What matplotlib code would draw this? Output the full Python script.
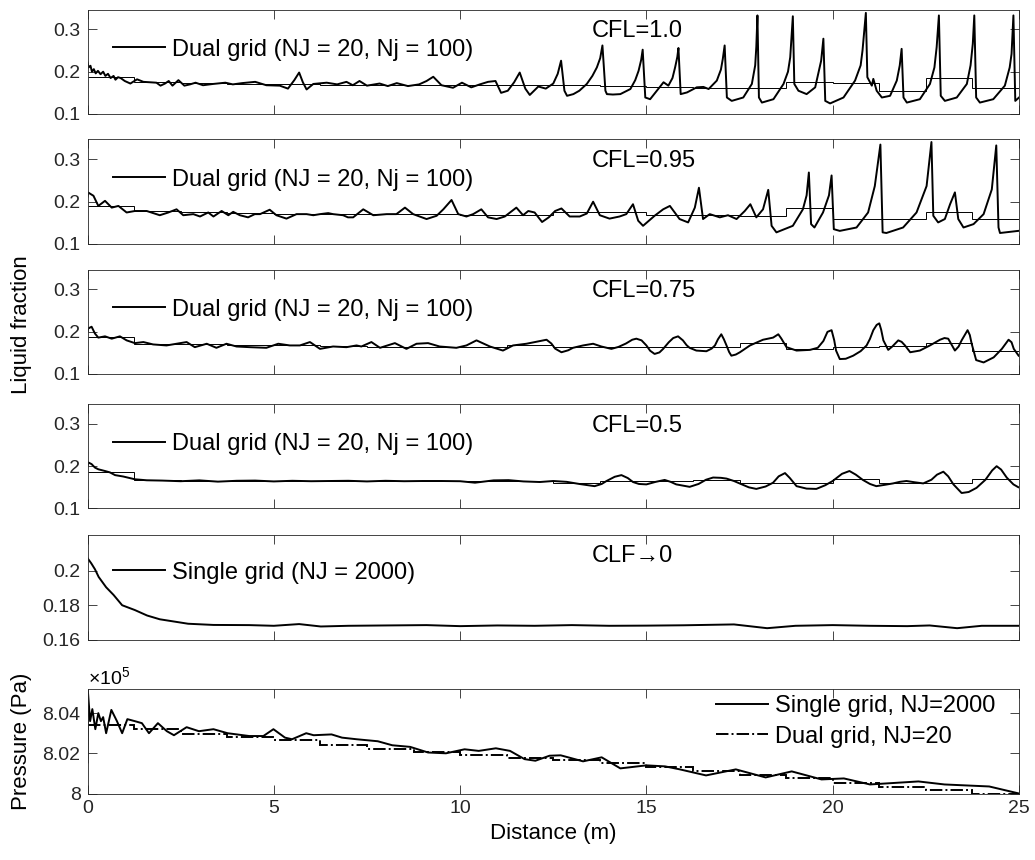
import numpy as np
import matplotlib
matplotlib.use("Agg")
import matplotlib.pyplot as plt
from matplotlib.ticker import FuncFormatter
from matplotlib.lines import Line2D

plt.rcParams['font.family'] = ['Liberation Sans', 'DejaVu Sans']
plt.rcParams['mathtext.fontset'] = 'custom'
plt.rcParams['mathtext.rm'] = 'Liberation Sans'
plt.rcParams['mathtext.it'] = 'Liberation Sans'

# ---------------- data ----------------
cell_edges = np.arange(21) * 1.25   # 20 coarse cells (NJ = 20) over 25 m
x_ticks = [0, 5, 10, 15, 20, 25]

# CFL = 1.0
cfl10_x = [0.0, 0.03, 0.08, 0.12, 0.17, 0.22, 0.28, 0.35, 0.42, 0.48, 0.55, 0.62, 0.7, 0.75, 0.82, 0.89, 1.0,
           1.15, 1.33, 1.5, 1.7, 1.85, 1.96, 2.08, 2.18, 2.28, 2.44, 2.6, 2.75, 2.9, 3.1, 3.37, 3.7, 3.9, 4.15,
           4.5, 4.8, 5.16, 5.38, 5.55, 5.68, 5.78, 5.88, 6.06, 6.42, 6.7, 6.95, 7.12, 7.3, 7.5, 7.84, 8.06, 8.3,
           8.6, 8.9, 9.1, 9.28, 9.5, 9.81, 10.05, 10.3, 10.53, 10.75, 10.95, 11.1, 11.28, 11.45, 11.6, 11.75,
           11.87, 12.1, 12.3, 12.5, 12.62, 12.71, 12.8, 12.87, 13.04, 13.2, 13.4, 13.55, 13.67, 13.76, 13.82,
           13.9, 13.94, 14.1, 14.3, 14.57, 14.7, 14.79, 14.86, 14.9, 14.97, 15.1, 15.28, 15.46, 15.59, 15.7,
           15.77, 15.83, 15.86, 15.92, 16.09, 16.35, 16.53, 16.67, 16.89, 17.0, 17.05, 17.1, 17.16, 17.29, 17.6,
           17.83, 17.92, 17.95, 17.98, 18.02, 18.1, 18.41, 18.68, 18.8, 18.86, 18.93, 18.97, 19.08, 19.3, 19.53,
           19.69, 19.75, 19.8, 19.93, 20.29, 20.6, 20.75, 20.8, 20.89, 20.93, 21.05, 21.09, 21.18, 21.32, 21.54,
           21.72, 21.8, 21.85, 21.9, 21.99, 22.34, 22.61, 22.73, 22.79, 22.85, 22.9, 23.01, 23.33, 23.6, 23.7,
           23.76, 23.8, 23.85, 23.95, 24.31, 24.62, 24.75, 24.8, 24.85, 24.9, 25.0]
cfl10_y = [0.222, 0.210, 0.214, 0.200, 0.206, 0.196, 0.202, 0.194, 0.200, 0.190, 0.195, 0.185, 0.190, 0.181,
           0.187, 0.185, 0.178, 0.172, 0.182, 0.176, 0.175, 0.174, 0.167, 0.172, 0.178, 0.167, 0.180, 0.167,
           0.170, 0.174, 0.168, 0.171, 0.174, 0.170, 0.173, 0.176, 0.168, 0.167, 0.160, 0.180, 0.198, 0.175,
           0.158, 0.171, 0.174, 0.170, 0.176, 0.168, 0.178, 0.167, 0.172, 0.166, 0.173, 0.166, 0.170, 0.178,
           0.188, 0.168, 0.162, 0.174, 0.163, 0.170, 0.176, 0.178, 0.150, 0.155, 0.175, 0.198, 0.160, 0.145,
           0.165, 0.160, 0.172, 0.195, 0.226, 0.155, 0.143, 0.147, 0.155, 0.171, 0.190, 0.210, 0.232, 0.262,
           0.155, 0.147, 0.146, 0.147, 0.159, 0.180, 0.202, 0.228, 0.252, 0.139, 0.135, 0.155, 0.175, 0.167,
           0.185, 0.210, 0.235, 0.256, 0.147, 0.151, 0.163, 0.164, 0.159, 0.179, 0.205, 0.230, 0.262, 0.139,
           0.131, 0.139, 0.171, 0.215, 0.259, 0.333, 0.139, 0.127, 0.135, 0.171, 0.200, 0.234, 0.331, 0.171,
           0.155, 0.147, 0.163, 0.226, 0.278, 0.131, 0.125, 0.139, 0.179, 0.215, 0.250, 0.339, 0.187, 0.167,
           0.183, 0.155, 0.139, 0.143, 0.179, 0.215, 0.254, 0.139, 0.127, 0.135, 0.171, 0.210, 0.258, 0.333,
           0.143, 0.131, 0.139, 0.171, 0.215, 0.266, 0.333, 0.139, 0.127, 0.135, 0.167, 0.210, 0.242, 0.333,
           0.131, 0.139]
cfl10_cells = [0.188, 0.176, 0.173, 0.171, 0.170, 0.169, 0.169, 0.168, 0.168, 0.168,
               0.169, 0.167, 0.165, 0.162, 0.162, 0.176, 0.173, 0.155, 0.184, 0.161]

# CFL = 0.95
cfl95_x = [0.0, 0.02, 0.16, 0.29, 0.47, 0.65, 0.83, 1.05, 1.27, 1.59, 1.94, 2.17, 2.39, 2.57, 2.84, 3.02, 3.24,
           3.38, 3.6, 3.78, 3.91, 4.09, 4.31, 4.49, 4.63, 4.89, 5.07, 5.34, 5.61, 5.88, 6.06, 6.24, 6.46, 6.59,
           6.86, 6.99, 7.13, 7.4, 7.67, 8.03, 8.29, 8.52, 8.74, 9.1, 9.37, 9.55, 9.77, 9.95, 10.17, 10.35,
           10.57, 10.75, 10.98, 11.2, 11.51, 11.69, 11.83, 12.0, 12.2, 12.38, 12.55, 12.72, 12.94, 13.21, 13.4,
           13.57, 13.75, 14.01, 14.28, 14.46, 14.64, 14.78, 14.91, 15.22, 15.45, 15.63, 15.89, 16.12, 16.3,
           16.41, 16.52, 16.7, 16.97, 17.19, 17.42, 17.64, 17.79, 17.95, 18.13, 18.27, 18.36, 18.49, 18.93,
           19.2, 19.3, 19.36, 19.42, 19.51, 19.74, 19.9, 19.97, 20.03, 20.19, 20.64, 20.95, 21.13, 21.28,
           21.34, 21.44, 21.89, 22.25, 22.52, 22.65, 22.7, 22.83, 23.01, 23.15, 23.28, 23.37, 23.51, 23.78,
           24.05, 24.27, 24.39, 24.45, 24.49, 24.98]
cfl95_y = [0.212, 0.2216, 0.214, 0.190, 0.202, 0.186, 0.190, 0.1745, 0.178, 0.178, 0.168, 0.1745, 0.182, 0.168,
           0.1706, 0.165, 0.1745, 0.165, 0.178, 0.168, 0.176, 0.168, 0.163, 0.1706, 0.1706, 0.181, 0.168, 0.160,
           0.1706, 0.1706, 0.168, 0.1706, 0.173, 0.1706, 0.168, 0.163, 0.163, 0.182, 0.168, 0.1706, 0.1706,
           0.186, 0.1706, 0.159, 0.1667, 0.182, 0.204, 0.1706, 0.165, 0.1706, 0.182, 0.163, 0.159, 0.165, 0.186,
           0.168, 0.178, 0.1745, 0.152, 0.163, 0.178, 0.184, 0.165, 0.165, 0.172, 0.200, 0.168, 0.160, 0.165,
           0.1706, 0.194, 0.155, 0.143, 0.1667, 0.182, 0.190, 0.159, 0.151, 0.186, 0.233, 0.159, 0.1706, 0.163,
           0.168, 0.159, 0.178, 0.194, 0.163, 0.182, 0.228, 0.143, 0.1275, 0.143, 0.182, 0.215, 0.269, 0.147,
           0.139, 0.1745, 0.215, 0.262, 0.135, 0.131, 0.139, 0.1745, 0.237, 0.335, 0.1275, 0.126, 0.139, 0.1745,
           0.237, 0.341, 0.1667, 0.151, 0.159, 0.194, 0.222, 0.159, 0.139, 0.147, 0.1706, 0.229, 0.333, 0.139,
           0.126, 0.131]
cfl95_cells = [0.190, 0.178, 0.175, 0.173, 0.172, 0.171, 0.170, 0.170, 0.169, 0.168,
               0.1745, 0.1745, 0.168, 0.168, 0.165, 0.184, 0.159, 0.159, 0.176, 0.160]

# CFL = 0.75
cfl75_x = [0.0, 0.02, 0.11, 0.2, 0.29, 0.47, 0.65, 0.87, 1.05, 1.27, 1.5, 1.76, 2.12, 2.39, 2.66, 2.88, 3.2, 3.46,
           3.73, 4.0, 4.36, 4.8, 5.12, 5.43, 5.7, 5.97, 6.24, 6.59, 6.95, 7.22, 7.35, 7.62, 7.85, 8.25, 8.56,
           8.83, 9.14, 9.45, 9.9, 10.17, 10.44, 10.8, 11.15, 11.42, 11.78, 12.32, 12.45, 12.55, 12.72, 12.9,
           13.03, 13.3, 13.57, 13.79, 14.06, 14.25, 14.45, 14.62, 14.73, 14.87, 15.0, 15.1, 15.22, 15.35, 15.45,
           15.6, 15.72, 15.85, 15.98, 16.08, 16.16, 16.34, 16.61, 16.75, 16.84, 16.92, 17.01, 17.08, 17.15,
           17.22, 17.28, 17.4, 17.51, 17.78, 18.13, 18.4, 18.54, 18.62, 18.76, 19.03, 19.39, 19.6, 19.75,
           19.86, 19.97, 20.04, 20.09, 20.19, 20.35, 20.55, 20.75, 20.91, 21.0, 21.09, 21.18, 21.25, 21.3,
           21.36, 21.49, 21.6, 21.76, 21.85, 21.94, 22.08, 22.34, 22.61, 22.88, 23.0, 23.1, 23.2, 23.28, 23.38,
           23.46, 23.62, 23.68, 23.73, 23.85, 24.05, 24.32, 24.54, 24.72, 24.8, 24.86, 24.99]
cfl75_y = [0.200, 0.2076, 0.2117, 0.1956, 0.186, 0.189, 0.1835, 0.189, 0.1795, 0.173, 0.1755, 0.1699, 0.1675,
           0.1715, 0.1755, 0.1634, 0.1715, 0.1619, 0.1715, 0.165, 0.1634, 0.1619, 0.1715, 0.1675, 0.1675,
           0.1755, 0.1594, 0.165, 0.1634, 0.1675, 0.165, 0.1755, 0.1619, 0.173, 0.1594, 0.1715, 0.173, 0.165,
           0.1619, 0.1675, 0.1795, 0.165, 0.1554, 0.1675, 0.1715, 0.181, 0.172, 0.160, 0.1514, 0.156,
           0.1619, 0.1675, 0.1715, 0.165, 0.1594, 0.164, 0.172, 0.181, 0.1835, 0.1795, 0.1675, 0.155, 0.1474,
           0.151, 0.1594, 0.175, 0.185, 0.189, 0.1795, 0.168, 0.1619, 0.1554, 0.1538, 0.160, 0.1675, 0.182,
           0.1939, 0.182, 0.1675, 0.152, 0.1433, 0.146, 0.1514, 0.1675, 0.181, 0.186, 0.1939, 0.184, 0.1634,
           0.1554, 0.157, 0.162, 0.178, 0.1996, 0.2036, 0.180, 0.1554, 0.1353, 0.136, 0.1433, 0.154, 0.1675,
           0.183, 0.2036, 0.216, 0.2197, 0.205, 0.1795, 0.157, 0.165, 0.1795, 0.176, 0.1675, 0.1514, 0.1554,
           0.1675, 0.181, 0.185, 0.1835, 0.168, 0.1554, 0.165, 0.1795, 0.2036, 0.192, 0.1715, 0.1329, 0.1273,
           0.1393, 0.1594, 0.181, 0.175, 0.1594, 0.1433]
cfl75_cells = [0.1875, 0.1715, 0.170, 0.169, 0.168, 0.166, 0.165, 0.165, 0.164, 0.168,
               0.163, 0.163, 0.163, 0.163, 0.173, 0.1594, 0.1634, 0.166, 0.173, 0.154]

# CFL = 0.5
cfl50_x = [0.0, 0.02, 0.11, 0.2, 0.29, 0.47, 0.6, 0.74, 0.96, 1.27, 1.59, 2.0, 2.5, 3.0, 3.5, 4.0, 4.5, 5.0,
           5.5, 6.0, 6.5, 7.0, 7.5, 8.0, 8.5, 9.0, 9.5, 10.0, 10.4, 10.9, 11.3, 11.7, 12.14, 12.5, 12.86,
           13.2, 13.61, 13.8, 13.93, 14.15, 14.33, 14.5, 14.64, 14.8, 15.0, 15.25, 15.49, 15.65, 15.8, 16.16,
           16.4, 16.6, 16.79, 17.0, 17.15, 17.35, 17.5, 17.75, 17.95, 18.2, 18.4, 18.55, 18.72, 18.85, 19.03,
           19.3, 19.56, 19.8, 20.0, 20.25, 20.45, 20.62, 20.81, 21.0, 21.17, 21.4, 21.62, 21.8, 21.98, 22.2,
           22.43, 22.65, 22.8, 22.97, 23.1, 23.24, 23.46, 23.65, 23.86, 24.1, 24.28, 24.4, 24.52, 24.67,
           24.85, 24.98]
cfl50_y = [0.200, 0.2089, 0.2049, 0.1967, 0.1927, 0.1886, 0.1854, 0.1789, 0.1756, 0.1691, 0.1667, 0.166,
           0.1645, 0.1665, 0.1635, 0.1655, 0.166, 0.164, 0.1655, 0.1645, 0.165, 0.1655, 0.164, 0.1655,
           0.1645, 0.165, 0.165, 0.1645, 0.161, 0.1665, 0.167, 0.164, 0.1626, 0.165, 0.163, 0.158, 0.1528,
           0.158, 0.165, 0.175, 0.1789, 0.172, 0.1626, 0.158, 0.157, 0.163, 0.1675, 0.163, 0.157, 0.1512,
           0.158, 0.168, 0.1732, 0.1725, 0.1707, 0.165, 0.1593, 0.150, 0.1463, 0.152, 0.161, 0.176, 0.1837,
           0.172, 0.1528, 0.147, 0.1463, 0.155, 0.165, 0.182, 0.1886, 0.180, 0.1675, 0.158, 0.1528, 0.156,
           0.1593, 0.163, 0.165, 0.162, 0.1593, 0.168, 0.180, 0.187, 0.176, 0.157, 0.1366, 0.139, 0.1488,
           0.168, 0.190, 0.200, 0.192, 0.1732, 0.157, 0.1504]
cfl50_cells = [0.186, 0.168, 0.165, 0.165, 0.165, 0.165, 0.165, 0.165, 0.165, 0.165,
               0.161, 0.165, 0.165, 0.1675, 0.161, 0.1593, 0.1707, 0.1593, 0.1593, 0.1707]

# CFL -> 0, single grid
single_x = [0.0, 0.1, 0.2, 0.3, 0.5, 0.7, 0.93, 1.27, 1.6, 1.94, 2.32, 2.7, 3.38, 4.34, 5.0, 5.68, 6.26, 7.0,
            8.0, 9.1, 10.0, 11.0, 12.0, 13.0, 14.0, 15.0, 16.0, 17.35, 18.24, 19.0, 20.0, 21.0, 22.0, 22.6,
            23.34, 24.0, 25.0]
single_y = [0.2075, 0.2045, 0.2010, 0.1965, 0.1905, 0.1860, 0.1800, 0.1772, 0.1740, 0.1718, 0.1705,
            0.1692, 0.1685, 0.1684, 0.1680, 0.1690, 0.1676, 0.1680, 0.1682, 0.1684, 0.1678, 0.1682, 0.1680,
            0.1684, 0.1680, 0.1681, 0.1683, 0.1688, 0.1666, 0.1680, 0.1684, 0.1680, 0.1678, 0.1682, 0.1666,
            0.1680, 0.1680]

# Pressure (Pa)
p_single_x = [0.0, 0.01, 0.07, 0.13, 0.21, 0.29, 0.36, 0.42, 0.5, 0.64, 0.79, 0.93, 1.07, 1.27, 1.46, 1.65,
              1.89, 2.13, 2.32, 2.66, 2.99, 3.38, 3.76, 4.34, 4.72, 4.99, 5.3, 5.49, 5.87, 6.07, 6.55, 6.83,
              7.22, 7.79, 8.18, 8.66, 9.14, 9.62, 10.12, 10.5, 10.96, 11.34, 11.73, 12.02, 12.4, 12.7, 13.3,
              13.8, 14.3, 15.0, 15.5, 15.9, 16.6, 17.4, 18.2, 18.9, 19.7, 20.3, 21.0, 22.3, 23.0, 24.2, 25.0]
p_single = [801550, 805100, 803600, 804200, 803200, 804000, 803600, 803800, 803000, 804160, 803600, 803000,
            803700, 803600, 803500, 803000, 803500, 803100, 802900, 803300, 803100, 803200, 803000, 802860,
            802860, 803200, 802780, 802700, 803000, 802900, 802940, 802780, 802700, 802600, 802400, 802320,
            802040, 802000, 802200, 802120, 802250, 802120, 801710, 801630, 801880, 801900, 801600, 801800,
            801250, 801400, 801350, 801200, 800900, 801200, 800800, 801100, 800700, 800750, 800450, 800600,
            800450, 800350, 800000]
p_dual_cells = [803400, 803200, 802950, 802800, 802650, 802400, 802200, 802050, 801900, 801750,
                801650, 801500, 801300, 801100, 800900, 800770, 800500, 800300, 800150, 800000]

# ---------------- figure ----------------
W, H = 1035, 860
fig = plt.figure(figsize=(W / 100, H / 100), dpi=100)

left_px, right_px = 87.5, 1019
tops = [9.5, 139.5, 269.5, 404, 535, 689]
ax_h = 104.5

def make_ax(top):
    return fig.add_axes([left_px / W, 1 - (top + ax_h) / H, (right_px - left_px) / W, ax_h / H])

TICK_FS = 14
TXT_FS = 17

def style(ax, bottom=False):
    ax.set_xlim(0, 25)
    ax.set_xticks(x_ticks)
    ax.tick_params(direction='in', length=6.5, width=0.6, top=True, right=True,
                   labelsize=TICK_FS, colors='#262626', pad=5)
    if not bottom:
        ax.tick_params(labelbottom=False)
    for s in ax.spines.values():
        s.set_linewidth(0.6)
        s.set_color('#262626')

panels = [
    (cfl10_x, cfl10_y, cfl10_cells, 'CFL=1.0'),
    (cfl95_x, cfl95_y, cfl95_cells, 'CFL=0.95'),
    (cfl75_x, cfl75_y, cfl75_cells, 'CFL=0.75'),
    (cfl50_x, cfl50_y, cfl50_cells, 'CFL=0.5'),
]

LEG_KW = dict(frameon=False, fontsize=TXT_FS, handlelength=2.2, handletextpad=0.3,
              borderpad=0, borderaxespad=0)

for i, (xs, ys, cells, lab) in enumerate(panels):
    ax = make_ax(tops[i])
    ln, = ax.plot(xs, ys, color='black', lw=1.4, solid_joinstyle='round',
                  label='Dual grid (NJ = 20, Nj = 100)')
    ax.stairs(cells, cell_edges, color='black', lw=0.7, baseline=None)
    ax.set_ylim(0.1, 0.347)
    ax.set_yticks([0.1, 0.2, 0.3])
    ax.yaxis.set_major_formatter(FuncFormatter(lambda v, p: f'{v:g}'))
    style(ax)
    ax.legend(handles=[ln], loc='center left', bbox_to_anchor=(0.027, 0.615), **LEG_KW)
    ax.text(0.5416, 0.79, lab, transform=ax.transAxes, fontsize=TXT_FS, va='center', ha='left')

ax5 = make_ax(tops[4])
ln5, = ax5.plot(single_x, single_y, color='black', lw=1.4, solid_joinstyle='round',
                label='Single grid (NJ = 2000)')
ax5.set_ylim(0.16, 0.221)
ax5.set_yticks([0.16, 0.18, 0.2])
ax5.yaxis.set_major_formatter(FuncFormatter(lambda v, p: f'{v:g}'))
style(ax5)
ax5.legend(handles=[ln5], loc='center left', bbox_to_anchor=(0.027, 0.64), **LEG_KW)
ax5.text(0.5416, 0.8, 'CLF\u21920', transform=ax5.transAxes, fontsize=TXT_FS, va='center', ha='left')

ax6 = make_ax(tops[5])
l1, = ax6.plot(p_single_x, p_single, color='black', lw=1.4, solid_joinstyle='round',
               label='Single grid, NJ=2000')
ax6.stairs(p_dual_cells, cell_edges, color='black', lw=1.4, linestyle='-.', baseline=None,
           label='Dual grid, NJ=20')
ax6.set_ylim(800000, 805200)
ax6.set_yticks([800000, 802000, 804000])
ax6.yaxis.set_major_formatter(FuncFormatter(lambda v, p: f'{v / 1e5:g}'))
style(ax6, bottom=True)
h2 = Line2D([], [], color='black', lw=1.4, linestyle='-.')
ax6.legend(handles=[l1, h2], labels=['Single grid, NJ=2000', 'Dual grid, NJ=20'], loc='upper right',
           bbox_to_anchor=(1 - 24 / 931.5, 0.94), labelspacing=0.35, **LEG_KW)
ax6.text(0.0, 1.01, r'$\times10^{5}$', transform=ax6.transAxes, fontsize=TICK_FS, va='bottom', ha='left')
ax6.set_xlabel('Distance (m)', fontsize=TXT_FS - 1, labelpad=4)

fig.text(22 / W, 1 - 325 / H, 'Liquid fraction', rotation=90, fontsize=TXT_FS - 1, va='center', ha='center')
fig.text(22 / W, 1 - 741 / H, 'Pressure (Pa)', rotation=90, fontsize=TXT_FS - 1, va='center', ha='center')

fig.savefig('out.png', dpi=100)
